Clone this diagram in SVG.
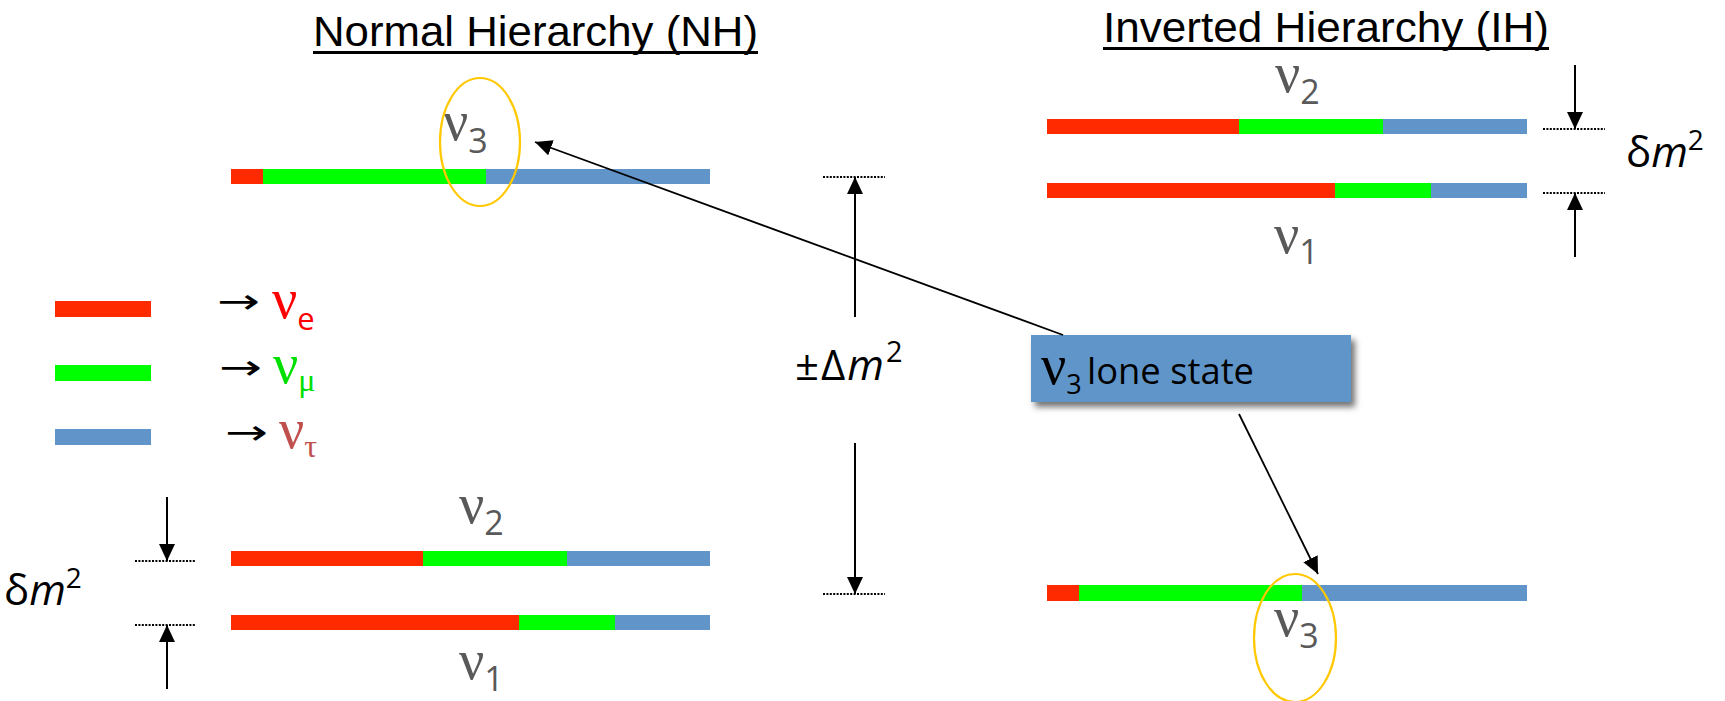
<svg xmlns="http://www.w3.org/2000/svg" width="1725" height="701" viewBox="0 0 1725 701">
<defs>
<marker id="ah" markerUnits="userSpaceOnUse" markerWidth="18" markerHeight="16" refX="17" refY="8" orient="auto">
<path d="M0,0 L17,8 L0,16 z" fill="#000"/>
</marker>
<filter id="sh" x="-10%" y="-20%" width="130%" height="160%">
<feDropShadow dx="4" dy="5" stdDeviation="3" flood-color="#000" flood-opacity="0.55"/>
</filter>
<style>
.title{font-family:"Liberation Sans","Open Sans",sans-serif;font-size:43px;fill:#000}
.nu{font-family:"Liberation Serif","DejaVu Serif",serif;font-size:56px}
.sub{font-family:"Open Sans","Liberation Sans",sans-serif;font-size:34px}
.lsub{font-family:"Open Sans","Liberation Sans",sans-serif;font-size:31px}
.gsub{font-family:"Liberation Serif","DejaVu Serif",serif;font-size:32px}
.gray{fill:#595959}
.arr{font-family:"DejaVu Sans",sans-serif;font-size:34px;fill:#000}
.dm{font-family:"Open Sans","Liberation Sans",sans-serif;font-size:42px;fill:#000}
.it{font-style:italic}
.box{font-family:"Open Sans","Liberation Sans",sans-serif;font-size:36px;fill:#000}
.r{fill:#FF2A00}.g{fill:#00FF00}.b{fill:#6195C9}
.conn{stroke:#000;stroke-width:1.8;fill:none}
.dim{stroke:#000;stroke-width:2;fill:none}
.dot{stroke:#000;stroke-width:2;stroke-dasharray:2 1.4;fill:none}
.ell{fill:none;stroke:#FFC800;stroke-width:2.2}
</style>
</defs>
<rect width="1725" height="701" fill="#fff"/>

<g id="title-nh">
<text class="title" x="313" y="46" textLength="445" lengthAdjust="spacingAndGlyphs">Normal Hierarchy (NH)</text>
<rect x="313" y="51" width="445" height="3" fill="#000"/>
</g>
<g id="title-ih">
<text class="title" x="1103" y="42" textLength="446" lengthAdjust="spacingAndGlyphs">Inverted Hierarchy (IH)</text>
<rect x="1103" y="47" width="446" height="3" fill="#000"/>
</g>

<g id="legend">
<rect class="r" x="55" y="301" width="96" height="16"/>
<rect class="g" x="55" y="365" width="96" height="16"/>
<rect class="b" x="55" y="429" width="96" height="16"/>
<text class="arr" x="217" y="313" textLength="43" lengthAdjust="spacingAndGlyphs">→</text>
<text class="arr" x="219" y="379" textLength="43" lengthAdjust="spacingAndGlyphs">→</text>
<text class="arr" x="225" y="444" textLength="43" lengthAdjust="spacingAndGlyphs">→</text>
<text x="272" y="318" fill="#FF0000"><tspan class="nu">ν</tspan><tspan class="lsub" dy="12">e</tspan></text>
<text x="273" y="383" fill="#00E000"><tspan class="nu">ν</tspan><tspan class="gsub" dy="8">μ</tspan></text>
<text x="279" y="448" fill="#C0504D"><tspan class="nu">ν</tspan><tspan class="gsub" dy="9">τ</tspan></text>
</g>

<g id="nh-nu3">
<rect class="r" x="231" y="169" width="32" height="15"/>
<rect class="g" x="263" y="169" width="223" height="15"/>
<rect class="b" x="486" y="169" width="224" height="15"/>
<text class="gray" x="443" y="140"><tspan class="nu">ν</tspan><tspan class="sub" dy="13">3</tspan></text>
<ellipse class="ell" cx="480" cy="142" rx="40" ry="64"/>
</g>

<g id="nh-nu2">
<rect class="r" x="231" y="551" width="192" height="15"/>
<rect class="g" x="423" y="551" width="144" height="15"/>
<rect class="b" x="567" y="551" width="143" height="15"/>
<text class="gray" x="459" y="523"><tspan class="nu">ν</tspan><tspan class="sub" dy="12">2</tspan></text>
</g>

<g id="nh-nu1">
<rect class="r" x="231" y="615" width="288" height="15"/>
<rect class="g" x="519" y="615" width="96" height="15"/>
<rect class="b" x="615" y="615" width="95" height="15"/>
<text class="gray" x="459" y="679"><tspan class="nu">ν</tspan><tspan class="sub" dy="12">1</tspan></text>
</g>

<g id="ih-nu2">
<rect class="r" x="1047" y="119" width="192" height="15"/>
<rect class="g" x="1239" y="119" width="144" height="15"/>
<rect class="b" x="1383" y="119" width="144" height="15"/>
<text class="gray" x="1275" y="92"><tspan class="nu">ν</tspan><tspan class="sub" dy="12">2</tspan></text>
</g>

<g id="ih-nu1">
<rect class="r" x="1047" y="183" width="288" height="15"/>
<rect class="g" x="1335" y="183" width="96" height="15"/>
<rect class="b" x="1431" y="183" width="96" height="15"/>
<text class="gray" x="1274" y="253"><tspan class="nu">ν</tspan><tspan class="sub" dy="11">1</tspan></text>
</g>

<g id="ih-nu3">
<rect class="r" x="1047" y="585" width="32" height="16"/>
<rect class="g" x="1079" y="585" width="223" height="16"/>
<rect class="b" x="1302" y="585" width="225" height="16"/>
<text class="gray" x="1274" y="636"><tspan class="nu">ν</tspan><tspan class="sub" dy="12">3</tspan></text>
<ellipse class="ell" cx="1295" cy="638" rx="41" ry="64"/>
</g>

<g id="lone-state">
<rect x="1031" y="335" width="320" height="67" fill="#6195C9" filter="url(#sh)"/>
<text class="box" x="1041" y="384"><tspan class="nu" font-size="46">ν</tspan><tspan font-size="27" dy="10">3</tspan><tspan dy="-10" x="1087" textLength="167" lengthAdjust="spacingAndGlyphs">lone state</tspan></text>
</g>

<g id="dm-nh">
<text class="dm" x="4" y="605">δ<tspan class="it">m</tspan><tspan font-size="28" dy="-17">2</tspan></text>
</g>
<g id="dm-ih">
<text class="dm" x="1626" y="167">δ<tspan class="it">m</tspan><tspan font-size="28" dy="-17">2</tspan></text>
</g>
<g id="Dm">
<text class="dm" x="795" y="380" font-size="44" letter-spacing="2">±Δ<tspan class="it">m</tspan><tspan font-size="29" dy="-18">2</tspan></text>
</g>

<g id="connectors">
<line class="conn" x1="1063" y1="335" x2="535" y2="142" marker-end="url(#ah)"/>
<line class="conn" x1="1239" y1="414" x2="1318" y2="574" marker-end="url(#ah)"/>
<line class="dim" x1="855" y1="317" x2="855" y2="177" marker-end="url(#ah)"/>
<line class="dim" x1="855" y1="443" x2="855" y2="594" marker-end="url(#ah)"/>
<line class="dot" x1="823" y1="177" x2="885" y2="177"/>
<line class="dot" x1="823" y1="594" x2="885" y2="594"/>
<line class="dim" x1="167" y1="497" x2="167" y2="561" marker-end="url(#ah)"/>
<line class="dim" x1="167" y1="689" x2="167" y2="625" marker-end="url(#ah)"/>
<line class="dot" x1="135" y1="561" x2="196" y2="561"/>
<line class="dot" x1="135" y1="625" x2="196" y2="625"/>
<line class="dim" x1="1575" y1="65" x2="1575" y2="129" marker-end="url(#ah)"/>
<line class="dim" x1="1575" y1="257" x2="1575" y2="193" marker-end="url(#ah)"/>
<line class="dot" x1="1543" y1="129" x2="1605" y2="129"/>
<line class="dot" x1="1543" y1="193" x2="1605" y2="193"/>
</g>
</svg>
